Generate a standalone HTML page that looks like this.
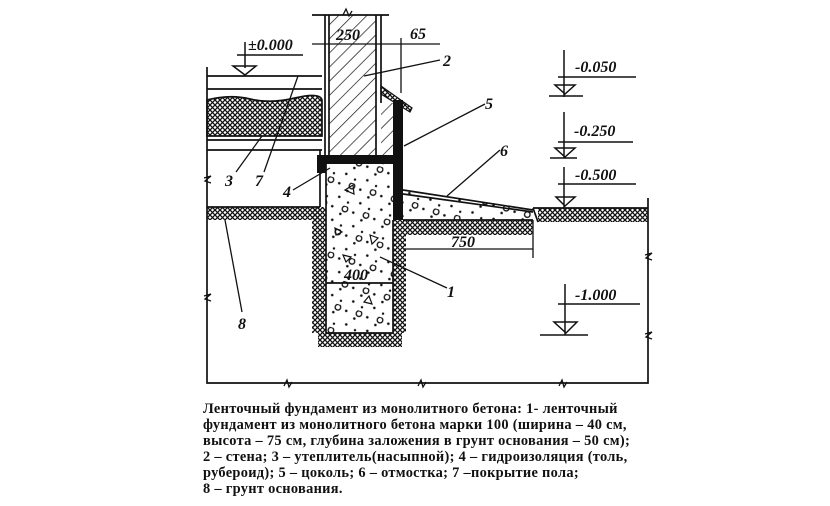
<!DOCTYPE html>
<html><head><meta charset="utf-8"><style>
html,body{margin:0;padding:0;background:#fff;width:830px;height:506px;overflow:hidden}
svg{position:absolute;left:0;top:0}
.cap{position:absolute;left:203px;top:401px;font-family:"Liberation Serif","DejaVu Serif",serif;font-size:14.4px;line-height:16px;color:#111;font-weight:bold;letter-spacing:0.3px;white-space:nowrap}
</style></head><body>
<svg width="830" height="506" viewBox="0 0 830 506" xmlns="http://www.w3.org/2000/svg">
<defs>
<pattern id="x" width="5" height="5" patternUnits="userSpaceOnUse"><path d="M0 0L5 5M5 0L0 5" stroke="#111" stroke-width="1.3"/></pattern>
<pattern id="d" width="10" height="10" patternUnits="userSpaceOnUse" patternTransform="rotate(45)"><path d="M0 0V10" stroke="#111" stroke-width="1.4"/></pattern>
<pattern id="c" width="22" height="24" patternUnits="userSpaceOnUse" patternTransform="rotate(17)"><circle cx="4" cy="4" r="1.3" fill="#111"/><circle cx="14" cy="9" r="1.3" fill="#111"/><circle cx="8" cy="17" r="1.3" fill="#111"/><circle cx="18" cy="20" r="1.2" fill="#111"/><circle cx="17" cy="3" r="2.8" fill="none" stroke="#111" stroke-width="1.3"/></pattern>
</defs>
<g stroke="#111" stroke-width="1.7" fill="none">
<path d="M207 67V383H648V198"/>
<path d="M207 76H322M207 89H322M207 140H322M207 150H322"/>
<path d="M207 100Q230 94 250 99T295 98T322 100V136H207Z" fill="url(#x)"/>
<path d="M320 150V207"/>
<rect x="207" y="207" width="113" height="13" fill="url(#x)" stroke="none"/>
<path d="M207 207H320"/>
<rect x="329" y="15" width="47" height="140" fill="url(#d)" stroke="none"/>
<path d="M325 15V155M329 15V155M376 15V155M381 15V103M312 15H389"/>
<path d="M343 15l3-6 3 7 3-5" stroke-width="1.3"/>
<rect x="381" y="103" width="12" height="52" fill="url(#d)" stroke="none"/>
<path d="M381 86L412 108L410 112L381 94Z" fill="url(#x)" stroke-width="1.2"/>
<path d="M317 155H403V220H393V164H326V173H317Z" fill="#111" stroke="none"/>
<path d="M393 100H403V155H393Z" fill="#111" stroke="none"/>
<rect x="326" y="164" width="67" height="169" fill="url(#c)" stroke="none"/>
<path d="M326 164V333H393V220M326 283H393"/>
<path d="M345 190l8-5 1 9z M370 235l8 3-6 6z M335 228l7 4-6 3z M369 296l3 8-8-2z M343 255l8 2-5 5z" stroke-width="1.2"/>
<rect x="312" y="207" width="14" height="126" fill="url(#x)" stroke="none"/>
<rect x="393" y="220" width="13" height="113" fill="url(#x)" stroke="none"/>
<rect x="318" y="333" width="84" height="14" fill="url(#x)" stroke="none"/>
<path d="M403 190L533 210V220H403Z" fill="url(#c)" stroke="none"/>
<path d="M403 190L533 210M403 194L533 212M403 220H533"/>
<rect x="406" y="220" width="127" height="15" fill="url(#x)" stroke="none"/>
<path d="M533 208L538 222"/>
<rect x="538" y="208" width="110" height="14" fill="url(#x)" stroke="none"/>
<path d="M533 208H648"/>
<path d="M403 249H533M533 220V258" stroke-width="1.3"/>
<path d="M312 44H440M401 38V93" stroke-width="1.3"/>
<path d="M245 42V68M237 55H303M233 66H256L245 75Z" stroke-width="1.5"/>
<path d="M564 50V97M558 77H636M555 85H575L565 94Z M549 96H583" stroke-width="1.5"/>
<path d="M564 112V158M558 142H633M555 148H575L565 157Z M550 158H577" stroke-width="1.5"/>
<path d="M564 167V208M558 184H636M556 197H575L565 206Z" stroke-width="1.5"/>
<path d="M565 284V335M558 304H640M554 322H577L566 333Z M540 335H588" stroke-width="1.5"/>
<path d="M204 178l7-2-6 5 6 2 M204 296l7-2-6 5 6 2 M645 255l7-2-6 5 6 2 M645 334l7-2-6 5 6 2" stroke-width="1.3"/>
<path d="M284 386l3-6 2 7 3-5 M418 386l3-6 2 7 3-5 M559 386l3-6 2 7 3-5" stroke-width="1.3"/>
<path d="M364 76L440 60M404 146L485 104M447 196L500 150M262 136L236 172M298 76L264 172M330 168L293 190M225 220L242 312M380 257L447 288" stroke-width="1.3"/>
</g>
<g font-family="Liberation Serif,serif" font-style="italic" font-weight="bold" font-size="16" fill="#111">
<text x="248" y="50">±0.000</text>
<text x="336" y="40">250</text>
<text x="410" y="39">65</text>
<text x="443" y="66">2</text>
<text x="485" y="109">5</text>
<text x="500" y="156">6</text>
<text x="225" y="186">3</text>
<text x="255" y="186">7</text>
<text x="283" y="197">4</text>
<text x="238" y="329">8</text>
<text x="447" y="297">1</text>
<text x="451" y="247">750</text>
<text x="344" y="280">400</text>
<text x="575" y="72">-0.050</text>
<text x="574" y="136">-0.250</text>
<text x="575" y="180">-0.500</text>
<text x="575" y="300">-1.000</text>
</g>
</svg>
<div class="cap">Ленточный фундамент из монолитного бетона: 1- ленточный<br>фундамент из монолитного бетона марки 100 (ширина – 40 см,<br>высота – 75 см, глубина заложения в грунт основания – 50 см);<br>2 – стена; 3 – утеплитель(насыпной); 4 – гидроизоляция (толь,<br>рубероид); 5 – цоколь; 6 – отмостка; 7 –покрытие пола;<br>8 – грунт основания.</div>
</body></html>
